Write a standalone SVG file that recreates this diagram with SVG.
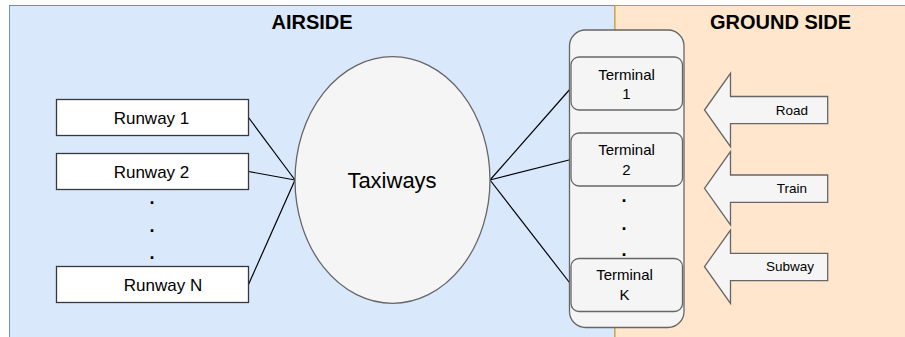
<svg xmlns="http://www.w3.org/2000/svg" width="905" height="337" viewBox="0 0 905 337">
<style>
text{font-family:"Liberation Sans",Arial,sans-serif;fill:#000;text-anchor:middle}
.title{font-size:20px;font-weight:bold}
.rw{fill:#fff;stroke:#36393d;stroke-width:1.3}
.rwt{font-size:17px}
.gray{fill:#f5f5f5;stroke:#666;stroke-width:1.3}
.tt{font-size:15px}
.at{font-size:13.5px}
.dot{font-size:18px;font-weight:bold}
.conn line{stroke:#000;stroke-width:1.2}
</style>
<g id="airside">
<rect x="9.5" y="5.5" width="605.5" height="340" fill="#dae8fc" stroke="#6c8ebf"/>
<text class="title" x="312" y="29">AIRSIDE</text>
</g>
<g id="groundside">
<rect x="615" y="5.5" width="300" height="340" fill="#ffe6cc" stroke="#d79b00"/>
<text class="title" x="780.5" y="29">GROUND SIDE</text>
</g>
<g class="conn" id="connectors">
<line x1="248.5" y1="117.5" x2="295" y2="180"/>
<line x1="248.5" y1="171.5" x2="295" y2="180"/>
<line x1="248.5" y1="284.5" x2="295" y2="180"/>
<line x1="490" y1="180" x2="571" y2="88"/>
<line x1="490" y1="180" x2="571" y2="159.5"/>
<line x1="490" y1="180" x2="571" y2="284.5"/>
</g>
<g id="runway1">
<rect class="rw" x="56.5" y="99.5" width="192" height="36"/>
<text class="rwt" x="151.5" y="124">Runway 1</text>
</g>
<g id="runway2">
<rect class="rw" x="56.5" y="153.5" width="192" height="36"/>
<text class="rwt" x="151.5" y="178">Runway 2</text>
</g>
<g id="runway-dots">
<text class="dot" x="152" y="204">.</text>
<text class="dot" x="152" y="232">.</text>
<text class="dot" x="152" y="259">.</text>
</g>
<g id="runwayN">
<rect class="rw" x="56.5" y="266.5" width="192" height="36"/>
<text class="rwt" x="163" y="291">Runway N</text>
</g>
<g id="taxiways">
<ellipse class="gray" cx="392.5" cy="180" rx="97.5" ry="123.3"/>
<text x="392" y="187.5" font-size="22px">Taxiways</text>
</g>
<g id="terminals">
<rect class="gray" x="569.5" y="30" width="114.5" height="297.5" rx="16" ry="16"/>
<text class="dot" x="624" y="201.5">.</text>
<text class="dot" x="624" y="229.5">.</text>
<text class="dot" x="624" y="256">.</text>
</g>
<g id="terminal1">
<rect class="gray" x="571" y="57" width="111.5" height="53" rx="8" ry="8"/>
<text class="tt" x="626.5" y="79.5">Terminal</text>
<text class="tt" x="626.5" y="98.5">1</text>
</g>
<g id="terminal2">
<rect class="gray" x="571" y="133" width="111.5" height="53" rx="8" ry="8"/>
<text class="tt" x="626.5" y="155">Terminal</text>
<text class="tt" x="626.5" y="174.5">2</text>
</g>
<g id="terminalK">
<rect class="gray" x="571" y="258.5" width="111.5" height="53" rx="8" ry="8"/>
<text class="tt" x="624.5" y="280">Terminal</text>
<text class="tt" x="624.5" y="299.5">K</text>
</g>
<g id="road">
<path class="gray" d="M704.5 110 L730.5 73.3 L730.5 96.5 L827.7 96.5 L827.7 123.7 L730.5 123.7 L730.5 146.7 Z"/>
<text class="at" x="792" y="115">Road</text>
</g>
<g id="train">
<path class="gray" d="M704.5 188.3 L730.5 151.6 L730.5 175 L827.7 175 L827.7 202.3 L730.5 202.3 L730.5 225 Z"/>
<text class="at" x="792" y="192.7">Train</text>
</g>
<g id="subway">
<path class="gray" d="M704.5 266.7 L730.5 230 L730.5 253.3 L827.7 253.3 L827.7 280.7 L730.5 280.7 L730.5 303.4 Z"/>
<text class="at" x="790" y="271">Subway</text>
</g>
</svg>
